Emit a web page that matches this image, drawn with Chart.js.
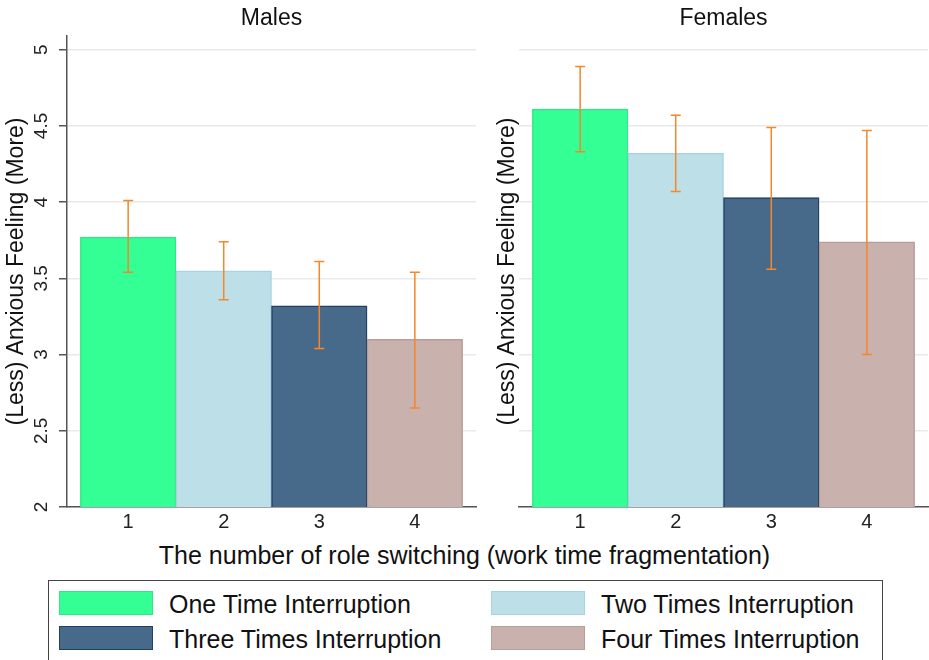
<!DOCTYPE html>
<html>
<head>
<meta charset="utf-8">
<script src="https://cdn.jsdelivr.net/npm/chart.js@4.4.1/dist/chart.umd.min.js"></script>
<style>
  body { margin: 0; width: 929px; height: 660px; overflow: hidden; position: relative; background: #fff;
         font-family: "Liberation Sans", Arial, sans-serif; color: #111; }
  canvas { position: absolute; top: 0; }
  #xtitle { position: absolute; left: 0; width: 929px; top: 540px; text-align: center; font-size: 25px; line-height: 30px; }
  #legendBox { position: absolute; left: 48px; top: 580px; width: 835px; height: 90px; border: 1.5px solid #444; box-sizing: border-box; }
  .sw { position: absolute; width: 94px; height: 24px; box-sizing: border-box; border: 1.5px solid; }
  .lt { position: absolute; font-size: 25px; line-height: 24px; white-space: nowrap; }
</style>
</head>
<body>
<canvas id="males" width="480" height="540" style="left:0px"></canvas>
<canvas id="females" width="439" height="540" style="left:490px"></canvas>
<div id="xtitle">The number of role switching (work time fragmentation)</div>
<div id="legendBox"></div>
<div id="legend"></div>
<script>
// bar categories and series
var categories = [1, 2, 3, 4];
var seriesNames = ["One Time Interruption", "Two Times Interruption", "Three Times Interruption", "Four Times Interruption"];
var barColors = ["#33ff95", "#bddfe8", "#486a8a", "#c9b1ad"];
var barBorders = ["#2ee887", "#a8d3e0", "#1f4166", "#b89d98"];
var yTicks = [2, 2.5, 3, 3.5, 4, 4.5, 5];

// mean and confidence interval
var malesMean = [3.77, 3.55, 3.32, 3.10];
var malesLow = [3.54, 3.36, 3.04, 2.65];
var malesHigh = [4.01, 3.74, 3.61, 3.54];
var femalesMean = [4.61, 4.32, 4.03, 3.74];
var femalesLow = [4.33, 4.07, 3.56, 3.00];
var femalesHigh = [4.89, 4.57, 4.49, 4.47];

var FONT = "'Liberation Sans', Arial, sans-serif";

function errorBarPlugin(low, high) {
  return {
    id: "errorBars",
    afterDatasetsDraw: function(chart) {
      var xs = chart.scales.x, ys = chart.scales.y, c = chart.ctx;
      c.save();
      c.strokeStyle = "#f5862a";
      c.lineWidth = 1.5;
      categories.forEach(function(cat, i) {
        var x = xs.getPixelForValue(cat);
        var y1 = ys.getPixelForValue(low[i]);
        var y2 = ys.getPixelForValue(high[i]);
        c.beginPath();
        c.moveTo(x, y1); c.lineTo(x, y2);
        c.moveTo(x - 5, y1); c.lineTo(x + 5, y1);
        c.moveTo(x - 5, y2); c.lineTo(x + 5, y2);
        c.stroke();
      });
      c.restore();
    }
  };
}

function panelTitlePlugin(text) {
  return {
    id: "panelTitle",
    afterDraw: function(chart) {
      var a = chart.chartArea, c = chart.ctx;
      c.save();
      c.font = "23px " + FONT;
      c.fillStyle = "#111";
      c.textAlign = "center";
      c.textBaseline = "middle";
      c.fillText(text, (a.left + a.right) / 2, 19);
      c.restore();
    }
  };
}

// stata style vertical tick labels on the left panel
var yLabelPlugin = {
  id: "yLabels",
  afterDraw: function(chart) {
    var ys = chart.scales.y, c = chart.ctx;
    c.save();
    c.font = "19px " + FONT;
    c.fillStyle = "#222";
    c.textAlign = "center";
    c.textBaseline = "middle";
    yTicks.forEach(function(v) {
      c.save();
      c.translate(42, ys.getPixelForValue(v));
      c.rotate(-Math.PI / 2);
      c.fillText(String(v), 0, 0);
      c.restore();
    });
    c.restore();
  }
};

function makePanel(id, title, means, low, high, left) {
  var plugins = [errorBarPlugin(low, high), panelTitlePlugin(title)];
  if (left) plugins.push(yLabelPlugin);
  return new Chart(document.getElementById(id), {
    type: "bar",
    data: {
      datasets: [{
        data: categories.map(function(c, i) { return { x: c, y: means[i] }; }),
        backgroundColor: barColors,
        borderColor: barBorders,
        borderWidth: 1.5,
        barPercentage: 1,
        categoryPercentage: 1
      }]
    },
    options: {
      responsive: false,
      animation: false,
      layout: { padding: { top: 36, right: left ? 4 : 1, left: 0, bottom: 0 } },
      plugins: { legend: { display: false }, tooltip: { enabled: false } },
      scales: {
        x: {
          type: "linear",
          offset: false,
          min: 0.36,
          max: 4.64,
          afterBuildTicks: function(s) { s.ticks = categories.map(function(v) { return { value: v }; }); },
          afterFit: function(s) { s.height = 33; },
          grid: { display: false, drawTicks: false },
          border: { color: "#555", width: 1.5 },
          ticks: { font: { size: 20, family: FONT }, color: "#222", padding: 3 }
        },
        y: {
          min: 2,
          max: 5.09,
          afterBuildTicks: function(s) { s.ticks = yTicks.map(function(v) { return { value: v }; }); },
          afterFit: function(s) { s.width = left ? 67 : 29; },
          grid: { color: "#e9e9e9", lineWidth: 1.5, drawTicks: left, tickLength: 8, tickColor: "#555", tickWidth: 1.5 },
          border: { display: left, color: "#555", width: 1.5 },
          ticks: { display: false },
          title: {
            display: true,
            text: "(Less) Anxious Feeling (More)",
            font: { size: 23, family: FONT },
            color: "#111",
            padding: { top: left ? 3 : 4, bottom: 0 }
          }
        }
      }
    },
    plugins: plugins
  });
}

makePanel("males", "Males", malesMean, malesLow, malesHigh, true);
makePanel("females", "Females", femalesMean, femalesLow, femalesHigh, false);

// legend, two columns
var legendX = [59, 491];
var legendY = [591, 626];
var legendHtml = "";
seriesNames.forEach(function(name, i) {
  var x = legendX[i % 2], y = legendY[Math.floor(i / 2)];
  legendHtml += '<div class="sw" style="left:' + x + 'px;top:' + y + 'px;background:' + barColors[i] + ';border-color:' + barBorders[i] + '"></div>';
  legendHtml += '<div class="lt" style="left:' + (x + 110) + 'px;top:' + (y + 1) + 'px">' + name + '</div>';
});
document.getElementById("legend").innerHTML = legendHtml;
</script>
</body>
</html>
